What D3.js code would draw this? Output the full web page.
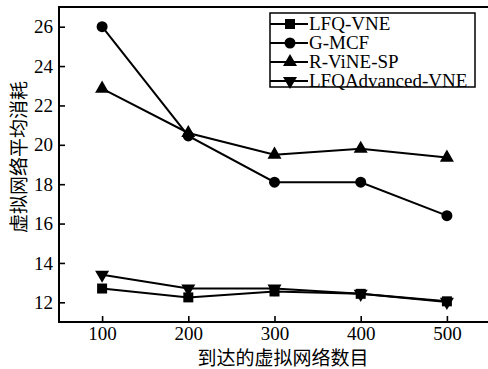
<!DOCTYPE html>
<html><head><meta charset="utf-8">
<script src="https://cdn.jsdelivr.net/npm/d3@7"></script>
<style>body{margin:0;background:#fff}svg{display:block}</style>
</head><body>
<script>
const categories = [100, 200, 300, 400, 500];
const seriesNames = ["LFQ-VNE", "G-MCF", "R-ViNE-SP", "LFQAdvanced-VNE"];
const lfqVne = [12.7, 12.25, 12.55, 12.43, 12.05];
const gMcf = [26.0, 20.45, 18.1, 18.1, 16.4];
const rVineSp = [22.85, 20.6, 19.5, 19.8, 19.35];
const lfqAdvanced = [13.4, 12.7, 12.7, 12.43, 12.02];
const xTicks = [100, 200, 300, 400, 500];
const yTicks = [12, 14, 16, 18, 20, 22, 24, 26];
const xTitle = "到达的虚拟网络数目";
const yTitle = "虚拟网络平均消耗";

(function () {
const W = 488, H = 369;
const pl = 59, pr = 490, pt = 7, pb = 322;
const svg = d3.select("body").append("svg").attr("width", W).attr("height", H);
const x = d3.scaleLinear().domain([50, 550]).range([pl, pr]);
const y = d3.scaleLinear().domain([11, 27]).range([pb, pt]);
const serif = "'Liberation Serif', 'Times New Roman', serif";
const cjk = "'Noto Sans CJK SC', sans-serif";

svg.append("rect").attr("x", pl).attr("y", pt).attr("width", pr - pl).attr("height", pb - pt)
  .attr("fill", "none").attr("stroke", "#000").attr("stroke-width", 2);

const xAxis = svg.append("g").attr("transform", `translate(0,${pb})`)
  .call(d3.axisBottom(x).tickValues(xTicks).tickSizeInner(-6).tickSizeOuter(0).tickPadding(5));
const yAxis = svg.append("g").attr("transform", `translate(${pl},0)`)
  .call(d3.axisLeft(y).tickValues(yTicks).tickSizeInner(-6).tickSizeOuter(0).tickPadding(6));
[xAxis, yAxis].forEach(a => {
  a.select(".domain").remove();
  a.selectAll(".tick line").attr("stroke", "#000").attr("stroke-width", 1.6);
  a.selectAll(".tick text").style("font-family", serif).style("font-size", "19px").attr("fill", "#000");
});

const symbols = [
  d3.symbol().type(d3.symbolSquare).size(100),
  d3.symbol().type(d3.symbolCircle).size(95),
  d3.symbol().type(d3.symbolTriangle).size(85),
  d3.symbol().type(d3.symbolTriangle).size(85)
];
const rotations = [0, 0, 0, 180];
const data = [lfqVne, gMcf, rVineSp, lfqAdvanced];
const line = d3.line().x((d, i) => x(categories[i])).y(d => y(d));

data.forEach(vals => {
  svg.append("path").attr("d", line(vals)).attr("fill", "none").attr("stroke", "#000").attr("stroke-width", 2);
});
data.forEach((vals, s) => {
  svg.selectAll(null).data(vals).enter().append("path")
    .attr("d", symbols[s])
    .attr("transform", (d, i) => `translate(${x(categories[i])},${y(d)}) rotate(${rotations[s]})`)
    .attr("fill", "#000");
});

const lg = svg.append("g");
lg.append("rect").attr("x", 270).attr("y", 13).attr("width", 205).attr("height", 74)
  .attr("fill", "#fff").attr("stroke", "#000").attr("stroke-width", 1.5);
seriesNames.forEach((n, s) => {
  const yy = 24 + s * 19;
  lg.append("line").attr("x1", 270).attr("x2", 308).attr("y1", yy).attr("y2", yy).attr("stroke", "#000").attr("stroke-width", 2);
  lg.append("path").attr("d", symbols[s]).attr("transform", `translate(290,${yy}) rotate(${rotations[s]})`).attr("fill", "#000");
  lg.append("text").attr("x", 309).attr("y", yy + 6).style("font-family", serif).style("font-size", "19px").text(n);
});

svg.append("text").attr("x", 283).attr("y", 365).attr("text-anchor", "middle")
  .style("font-family", cjk).style("font-size", "19px").text(xTitle);
svg.append("text").attr("transform", `translate(26,157) rotate(-90)`).attr("text-anchor", "middle")
  .style("font-family", cjk).style("font-size", "19px").text(yTitle);
})();
</script>
</body></html>
